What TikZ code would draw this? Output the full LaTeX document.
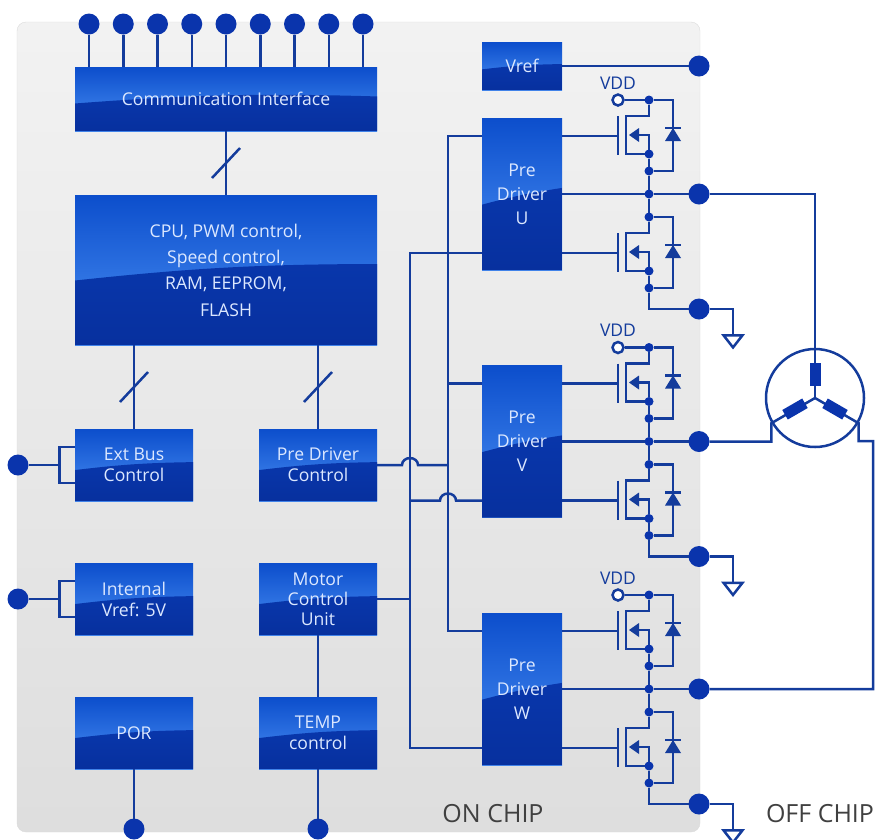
\documentclass[tikz,border=0pt]{standalone}
\usepackage{fontspec}
\setmainfont{Open Sans}
\usetikzlibrary{calc,positioning,shapes.geometric}

\definecolor{wirec}{HTML}{143C9C}
\definecolor{padc}{HTML}{0A34AC}
\definecolor{glosstop}{HTML}{0C4ECC}
\definecolor{glossmid}{HTML}{4A90F4}
\definecolor{glossdark}{HTML}{0A3CB6}
\definecolor{glossdeep}{HTML}{07309E}
\definecolor{boxtext}{HTML}{DCE8FF}

% Transistor with its diode, drain at height #2
\newcommand{\fetcell}[2]{
    \begin{scope}[shift={(649,#2)}]
        \node [dot] (#1d) at (0,0) {};
        \node [dot] (#1s) at (0,54) {};
        \node [dot] (#1b) at (0,71) {};
        \coordinate (#1g) at (-31,36);
        \draw [wire] (#1d) -- (0,16) -- (-23,16) -- (-23,54) -- (#1s);
        \draw [wire] (-31,16) -- (-31,55);
        \draw [wire] (#1s) -- (0,35) -- (-10,35);
        \fill [wirec] (-20,35) -- (-10,28) -- (-10,42) -- cycle;
        \draw [wire] (#1d) -- (24,0) -- (24,71) -- (#1b);
        \draw [wire] (#1s) -- (#1b);
        \draw [wire] (16,28) -- (32,28);
        \fill [wirec] (24,28) -- (16,41) -- (32,41) -- cycle;
    \end{scope}
}

\begin{document}
\begin{tikzpicture}[
        x=1pt, y=-1pt,
        % Chip background
        panel/.style={
            rectangle, rounded corners=9pt, draw=black!14,
            minimum width=683pt, minimum height=810pt,
            top color=black!5, bottom color=black!13
        },
        % Blue blocks
        chipbox/.style={
            rectangle, outer sep=0pt, inner sep=0pt, align=center,
            minimum width=118pt, minimum height=72pt,
            top color=glosstop, bottom color=glossmid,
            text=boxtext, font=\fontsize{17.6}{21}\selectfont,
            path picture={
                \path [top color=glossdark, bottom color=glossdeep]
                    ($(path picture bounding box.north west)!.57!(path picture bounding box.south west)$)
                    to[bend left=3]
                    ($(path picture bounding box.north east)!.46!(path picture bounding box.south east)$)
                    -- (path picture bounding box.south east)
                    -- (path picture bounding box.south west) -- cycle;
            }
        },
        widebox/.style={chipbox, minimum width=302pt},
        drivebox/.style={
            chipbox, minimum width=80pt, minimum height=152pt,
            font=\fontsize{17.6}{24}\selectfont
        },
        % Wires and terminals
        wire/.style={draw=wirec, line width=2.5pt},
        pad/.style={circle, fill=padc, minimum size=21pt, inner sep=0pt, outer sep=0pt},
        dot/.style={circle, fill=padc, minimum size=9pt, inner sep=0pt, outer sep=0pt},
        vddpad/.style={circle, draw=wirec, line width=2.5pt, fill=white, minimum size=11pt, inner sep=0pt},
        vddtext/.style={text=wirec, font=\fontsize{17.5}{20}\selectfont, inner sep=0pt},
        gnd/.style={
            isosceles triangle, isosceles triangle apex angle=76,
            shape border rotate=-90, draw=wirec, line width=2.5pt, fill=white,
            inner sep=0pt, minimum height=12pt
        },
        % Motor
        motor/.style={circle, draw=wirec, line width=2.5pt, minimum size=98pt, inner sep=0pt},
        winding/.style={rectangle, fill=padc, minimum width=23pt, minimum height=11pt, inner sep=0pt},
        chiplabel/.style={text=black!75, font=\fontsize{25}{29}\selectfont}
    ]
        \useasboundingbox (0,0) rectangle (877,839);

        % Background
        \node [panel] (chip) at (358.5,427) {};

        % Left column
        \node [widebox, minimum height=64pt] (comm) at (226,99) {Communication Interface};
        \node [widebox, minimum height=150pt, below=64pt of comm,
            font=\fontsize{17.6}{26.3}\selectfont] (cpu)
            {CPU, PWM control,\\Speed control,\\RAM, EEPROM,\\FLASH};
        \node [chipbox, below right=84pt and 0pt of cpu.south west] (ext) {Ext Bus\\Control};
        \node [chipbox, below=62pt of ext] (intref) {Internal\\Vref: 5V};
        \node [chipbox, below=62pt of intref] (por) {POR};

        % Second column
        \node [chipbox, below left=84pt and 0pt of cpu.south east] (pdc) {Pre Driver\\Control};
        \node [chipbox, below=62pt of pdc, font=\fontsize{17.6}{20}\selectfont] (mcu) {Motor\\Control\\Unit};
        \node [chipbox, below=62pt of mcu] (temp) {TEMP\\control};

        % Drivers
        \node [chipbox, minimum width=80pt, minimum height=48pt] (vref) at (522,66) {Vref};
        \node [drivebox] (preu) at (522,194) {Pre\\Driver\\U};
        \node [drivebox, below=95.5pt of preu] (prev) {Pre\\Driver\\V};
        \node [drivebox, below=95.5pt of prev] (prew) {Pre\\Driver\\W};

        % Terminals
        \foreach \i in {0,...,8} {
            \node [pad] (top\i) at (89+34.25*\i,24) {};
            \draw [wire] (top\i) -- (top\i |- comm.north);
        }
        \node [pad] (vrefpad) at (699,66) {};
        \node [pad] (extpad) at (18,465) {};
        \node [pad] (intpad) at (18,599) {};
        \node [pad] (porpad) at (134,829) {};
        \node [pad] (temppad) at (318,829) {};
        \coordinate [right=31pt of extpad] (extfork);
        \coordinate [right=31pt of intpad] (intfork);

        % Block connections
        \draw [wire] (comm) -- coordinate (combus) (cpu);
        \draw [wire] (combus) ++(-14,15) -- ++(28,-30);
        \draw [wire] (cpu.south -| ext) -- coordinate (extbus) (ext);
        \draw [wire] (extbus) ++(-14,15) -- ++(28,-30);
        \draw [wire] (cpu.south -| pdc) -- coordinate (pdcbus) (pdc);
        \draw [wire] (pdcbus) ++(-14,15) -- ++(28,-30);
        \draw [wire] (mcu) -- (temp);
        \draw [wire] (por) -- (porpad);
        \draw [wire] (temp) -- (temppad);
        \draw [wire] (vref) -- (vrefpad);
        \draw [wire] (extpad) -- (extfork);
        \draw [wire] ([yshift=18pt]ext.west) -| (extfork) |- ([yshift=-18pt]ext.west);
        \draw [wire] (intpad) -- (intfork);
        \draw [wire] ([yshift=18pt]intref.west) -| (intfork) |- ([yshift=-18pt]intref.west);

        % Power stages
        \foreach \ph/\oy in {u/0,v/247.5,w/495} {
            \fetcell{hi\ph}{100+\oy}
            \fetcell{lo\ph}{217+\oy}
            \node [vddpad, label={[vddtext, label distance=4pt]above:VDD}] (vdd\ph) at (618,100+\oy) {};
            \node [dot] (mid\ph) at (649,194+\oy) {};
            \node [pad] (out\ph) at (699,194+\oy) {};
            \node [pad] (low\ph) at (699,309+\oy) {};
            \node [gnd] (gnd\ph) at (733,340+\oy) {};
            \draw [wire] (vdd\ph) -- (hi\ph d);
            \draw [wire] (hi\ph b) -- (mid\ph) -- (lo\ph d);
            \draw [wire] (pre\ph.east |- mid\ph) -- (mid\ph) -- (out\ph);
            \draw [wire] (pre\ph.east |- hi\ph g) -- (hi\ph g);
            \draw [wire] (pre\ph.east |- lo\ph g) -- (lo\ph g);
            \draw [wire] (lo\ph b) |- (low\ph);
            \draw [wire] (low\ph) -| (gnd\ph);
        }

        % Buses to the drivers
        \coordinate (busa) at (410,0);
        \coordinate (busb) at (448,0);
        \draw [wire] (preu.west |- hiug) -- (busb |- hiug) -- (busb |- hiwg) -- (prew.west |- hiwg);
        \draw [wire] (preu.west |- loug) -- (busa |- loug) -- (busa |- lowg) -- (prew.west |- lowg);
        \draw [wire] (prev.west |- hivg) -- (busb |- hivg);
        \draw [wire] (pdc.east) -- ([xshift=-8pt]busa |- pdc.east)
            arc[start angle=180, end angle=360, x radius=8, y radius=7] -- (busb |- pdc.east);
        \draw [wire] (busa |- lovg) -- ([xshift=-8pt]busb |- lovg)
            arc[start angle=180, end angle=360, x radius=8, y radius=7] -- (prev.west |- lovg);
        \draw [wire] (mcu.east) -- (busa |- mcu.east);

        % Motor
        \node [motor] (mot) at (815,398) {};
        \coordinate (star) at (mot.center);
        \coordinate (mright) at (873,441);
        \draw [wire] (outu) -| (star);
        \draw [wire] (star) -- (mot.210) |- (outv);
        \draw [wire] (star) -- (mot.330) |- (mright) |- (outw);
        \node [winding, rotate=90] (windu) at (815,374) {};
        \node [winding, rotate=30] (windv) at (795,409) {};
        \node [winding, rotate=-30] (windw) at (835,409) {};

        % Labels
        \node [chiplabel] (onchip) at (493,814) {ON CHIP};
        \node [chiplabel] (offchip) at (820,814) {OFF CHIP};

    \end{tikzpicture}
\end{document}
